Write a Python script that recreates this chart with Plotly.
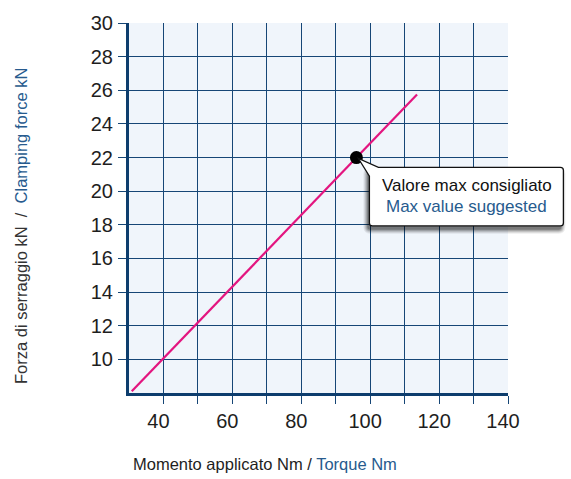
import plotly.graph_objects as go

# Clamping force vs. applied torque
torque = [30.8, 113.6]          # Nm
force = [8.1, 25.75]            # kN
max_torque = [96]               # recommended maximum
max_force = [22]

x_ticks = [40, 50, 60, 70, 80, 90, 100, 110, 120, 130, 140]
x_labels = ["40", "", "60", "", "80", "", "100", "", "120", "", "140"]
y_ticks = [10, 12, 14, 16, 18, 20, 22, 24, 26, 28, 30]
y_labels = [str(v) for v in y_ticks]

X_RANGE = [30, 140]
Y_RANGE = [8, 30]

W, H = 571, 479
M_L, M_R, M_T, M_B = 129, 63, 14, 86
PW, PH = W - M_L - M_R, H - M_T - M_B

NAVY = "#0d3d6d"
GRID = "#164676"
BLUE = "#275b8e"
TEXT = "#1e1e1e"
FONT = "Liberation Sans, Arial, sans-serif"

fig = go.Figure()
fig.add_trace(go.Scatter(x=torque, y=force, mode="lines",
                         line=dict(color="#e3157f", width=2.2),
                         hoverinfo="skip", showlegend=False))
fig.add_trace(go.Scatter(x=max_torque, y=max_force, mode="markers",
                         marker=dict(color="black", size=13),
                         hoverinfo="skip", showlegend=False))


def to_paper(xv, yv):
    return ((xv - X_RANGE[0]) / (X_RANGE[1] - X_RANGE[0]),
            (yv - Y_RANGE[0]) / (Y_RANGE[1] - Y_RANGE[0]))


# Callout anchored on the recommended-maximum point, offsets in pixels
ax, ay = to_paper(max_torque[0], max_force[0])


def P(dx, dy):
    return f"{ax + dx / PW:.5f},{ay - dy / PH:.5f}"


def callout_path(left, right, top, bottom, r=3, tip=True):
    parts = []
    if tip:
        parts.append(f"M{P(2, 1)}")
        parts.append(f"L{P(left, top + 9)}")
    else:
        parts.append(f"M{P(left, top + r)}")
    parts.append(f"L{P(left, bottom - r)}")
    parts.append(f"Q{P(left, bottom)} {P(left + r, bottom)}")
    parts.append(f"L{P(right - r, bottom)}")
    parts.append(f"Q{P(right, bottom)} {P(right, bottom - r)}")
    parts.append(f"L{P(right, top + r)}")
    parts.append(f"Q{P(right, top)} {P(right - r, top)}")
    if tip:
        parts.append(f"L{P(left + 9, top)}")
    else:
        parts.append(f"L{P(left + r, top)}")
        parts.append(f"Q{P(left, top)} {P(left, top + r)}")
    parts.append("Z")
    return " ".join(parts)


BL, BR, BT, BB = 13, 207, 10, 70
shapes = []
# soft drop shadow
for grow, op in [(4, 0.07), (3, 0.09), (2, 0.12), (1, 0.16), (0, 0.22)]:
    shapes.append(dict(type="path", xref="paper", yref="paper",
                       path=callout_path(BL - 2 - grow, BR - 2 + grow,
                                         BT + 4 - grow, BB + 4 + grow,
                                         r=3 + grow, tip=False),
                       fillcolor=f"rgba(0,0,0,{op})", line=dict(width=0),
                       layer="above"))
shapes.append(dict(type="path", xref="paper", yref="paper",
                   path=callout_path(BL, BR, BT, BB),
                   fillcolor="white", line=dict(color="#111111", width=1.3),
                   layer="above"))

annotations = [
    dict(xref="paper", yref="paper", x=ax + 111 / PW, y=ay - 29 / PH,
         text="Valore max consigliato", showarrow=False,
         font=dict(family=FONT, size=17, color="#111111"),
         xanchor="center", yanchor="middle"),
    dict(xref="paper", yref="paper", x=ax + 110 / PW, y=ay - 50 / PH,
         text="Max value suggested", showarrow=False,
         font=dict(family=FONT, size=17, color=BLUE),
         xanchor="center", yanchor="middle"),
    dict(xref="paper", yref="paper", x=(265 - M_L) / PW, y=-(466 - (H - M_B)) / PH,
         text=f"<span style='color:{TEXT}'>Momento applicato Nm / </span>"
              f"<span style='color:{BLUE}'>Torque Nm</span>",
         showarrow=False, font=dict(family=FONT, size=16.5),
         xanchor="center", yanchor="middle"),
    dict(xref="paper", yref="paper", x=-(M_L - 21) / PW, y=((H - M_B) - 222) / PH,
         text=f"<span style='color:#333333'>Forza di serraggio kN  /  </span>"
              f"<span style='color:{BLUE}'>Clamping force kN</span>",
         textangle=-90, showarrow=False, font=dict(family=FONT, size=16.5),
         xanchor="center", yanchor="middle"),
]

fig.update_layout(
    width=W, height=H,
    margin=dict(l=M_L, r=M_R, t=M_T, b=M_B, pad=0),
    paper_bgcolor="white", plot_bgcolor="#f0f5fb",
    shapes=shapes, annotations=annotations,
    xaxis=dict(range=X_RANGE, tickvals=x_ticks, ticktext=x_labels,
               showgrid=True, gridcolor=GRID, gridwidth=1.3,
               showline=True, linecolor=NAVY, linewidth=3,
               ticks="outside", ticklen=8, tickwidth=1.3, tickcolor=GRID,
               tickfont=dict(family=FONT, size=20, color=TEXT),
               ticklabelstandoff=0, ticklabelshift=-5, zeroline=False),
    yaxis=dict(range=Y_RANGE, tickvals=y_ticks, ticktext=y_labels,
               showgrid=True, gridcolor=GRID, gridwidth=1.3,
               showline=True, linecolor=NAVY, linewidth=3,
               ticks="outside", ticklen=8, tickwidth=1.3, tickcolor=GRID,
               tickfont=dict(family=FONT, size=20, color=TEXT),
               ticklabelstandoff=1, zeroline=False),
)

fig.write_html("out.html")
